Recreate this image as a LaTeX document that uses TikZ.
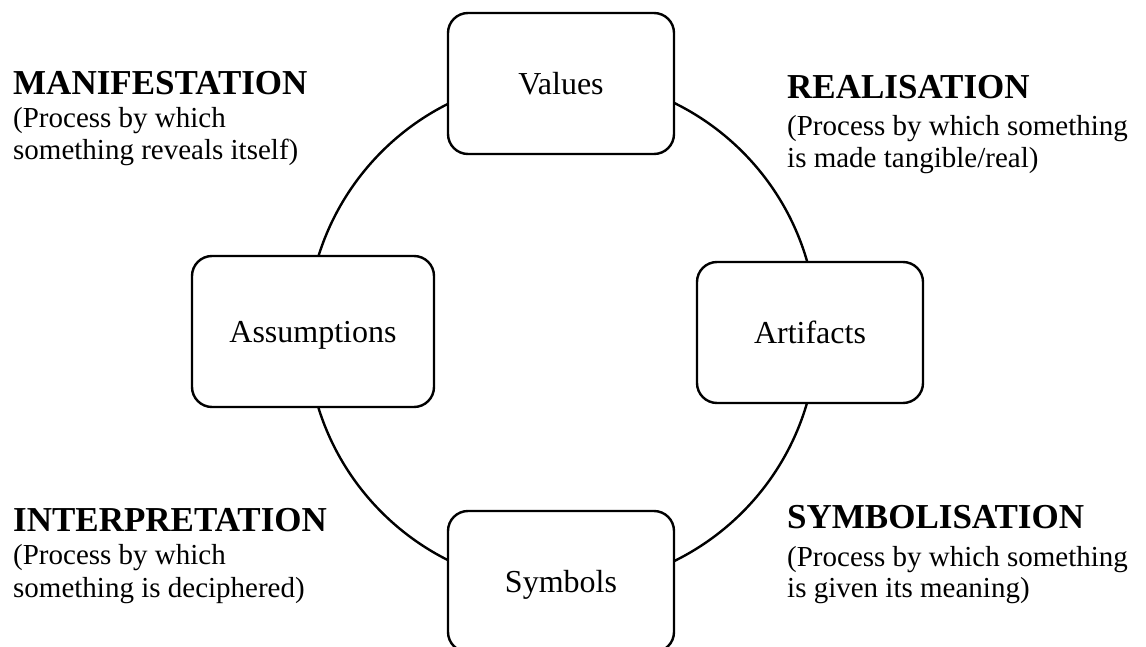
\documentclass[tikz,border=0pt]{standalone}
\usepackage{fontspec}
\setmainfont{Liberation Serif}
\begin{document}
\begin{tikzpicture}[x=1pt,y=-1pt,
  box/.style={draw=black, line width=2.4pt, rounded corners=20pt, fill=white,
    minimum width=226pt, minimum height=141pt, inner sep=0pt,
    text height=21.5pt, text depth=0pt, font=\fontsize{32}{37}\selectfont},
  head/.style={anchor=base west, inner sep=0pt, font=\fontsize{35}{41}\selectfont\bfseries},
  body/.style={anchor=base west, inner sep=0pt, font=\fontsize{29}{33}\selectfont}]
\useasboundingbox (0,0) rectangle (1146,647);
\path[clip] (0,0) rectangle (1146,647);
\coordinate (c) at (562,332);
\draw[line width=2.4pt] (c) circle[radius=255];
\node[box] (values) at (561,83.5) {Values};
\node[box, minimum width=242pt, minimum height=151pt] (assump) at (313,331.5) {Assumptions};
\node[box] (artif) at (810,332.5) {Artifacts};
\node[box] (symb) at (561,581.5) {Symbols};
% top left
\node[head] (m0) at (13,95) {MANIFESTATION};
\node[body] (m1) at (13,128) {(Process by which};
\node[body] (m2) at (13,160) {something reveals itself)};
% top right
\node[head] (r0) at (787,99) {REALISATION};
\node[body] (r1) at (787,136) {(Process by which something};
\node[body] (r2) at (787,168) {is made tangible/real)};
% bottom left
\node[head] (i0) at (13,531) {INTERPRETATION};
\node[body] (i1) at (13,564) {(Process by which};
\node[body] (i2) at (13,597) {something is deciphered)};
% bottom right
\node[head] (s0) at (787,528) {SYMBOLISATION};
\node[body] (s1) at (787,566) {(Process by which something};
\node[body] (s2) at (787,597) {is given its meaning)};
\end{tikzpicture}
\end{document}
